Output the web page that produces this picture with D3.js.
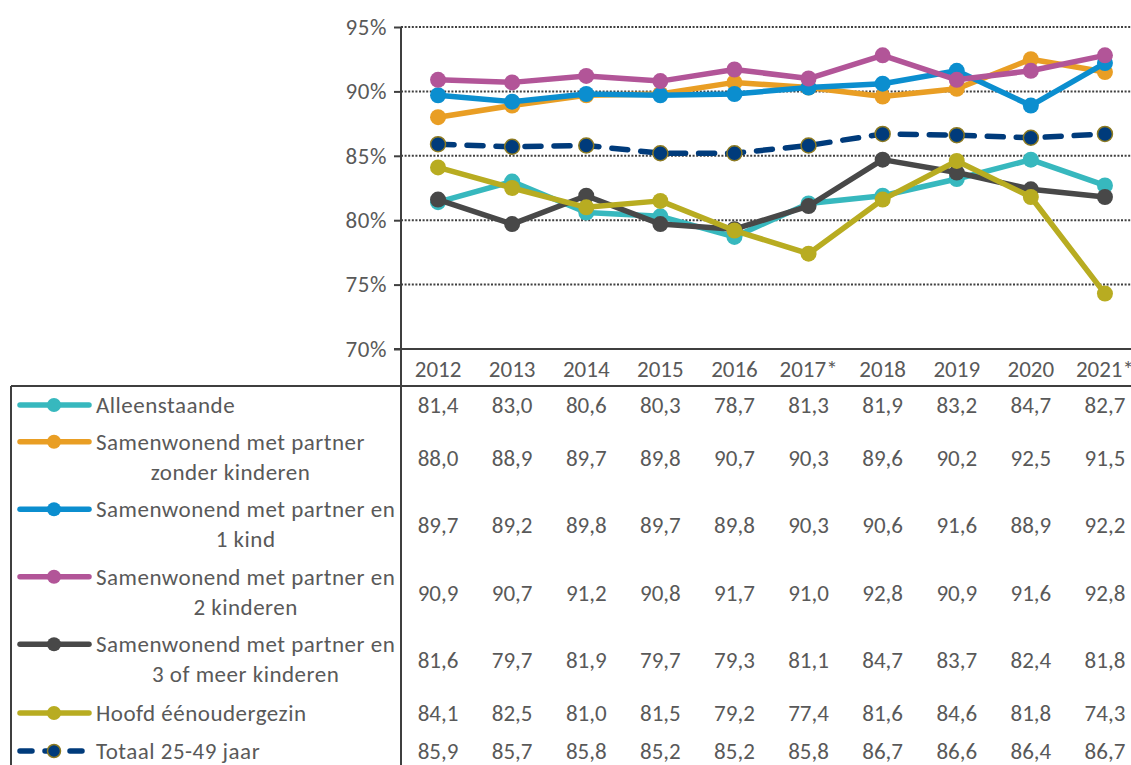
<!DOCTYPE html>
<html>
<head>
<meta charset="utf-8">
<script src="https://cdn.jsdelivr.net/npm/d3@7"></script>
<style>
  html, body { margin: 0; padding: 0; background: #fff; overflow: hidden; }
  svg { display: block; }
  text { font-family: Carlito, Lato, "Open Sans", sans-serif; fill: #595959; }
</style>
</head>
<body>
<svg id="chart" width="1131" height="765"></svg>
<script>
// Years (columns of the data table / x axis)
const years = ["2012", "2013", "2014", "2015", "2016", "2017*", "2018", "2019", "2020", "2021*"];

// Percentages per household type
const alleenstaande = [81.4, 83.0, 80.6, 80.3, 78.7, 81.3, 81.9, 83.2, 84.7, 82.7];
const zonderKinderen = [88.0, 88.9, 89.7, 89.8, 90.7, 90.3, 89.6, 90.2, 92.5, 91.5];
const eenKind = [89.7, 89.2, 89.8, 89.7, 89.8, 90.3, 90.6, 91.6, 88.9, 92.2];
const tweeKinderen = [90.9, 90.7, 91.2, 90.8, 91.7, 91.0, 92.8, 90.9, 91.6, 92.8];
const drieOfMeer = [81.6, 79.7, 81.9, 79.7, 79.3, 81.1, 84.7, 83.7, 82.4, 81.8];
const eenouder = [84.1, 82.5, 81.0, 81.5, 79.2, 77.4, 81.6, 84.6, 81.8, 74.3];
const totaal = [85.9, 85.7, 85.8, 85.2, 85.2, 85.8, 86.7, 86.6, 86.4, 86.7];

// Legend labels (lines of each table row header)
const labels = [
  ["Alleenstaande"],
  ["Samenwonend met partner", "zonder kinderen"],
  ["Samenwonend met partner en", "1 kind"],
  ["Samenwonend met partner en", "2 kinderen"],
  ["Samenwonend met partner en", "3 of meer kinderen"],
  ["Hoofd éénoudergezin"],
  ["Totaal 25-49 jaar"]
];

const yTicks = [70, 75, 80, 85, 90, 95];

const seriesValues = [alleenstaande, zonderKinderen, eenKind, tweeKinderen, drieOfMeer, eenouder, totaal];
const colors = ["#37b8be", "#e99e24", "#0b8ecf", "#b25598", "#484848", "#b8ac21", "#003b7b"];

const series = seriesValues.map((values, i) => ({
  label: labels[i],
  values,
  color: colors[i],
  dashed: i === 6
}));

const svg = d3.select("#chart");
const fontSize = 23;

// Plot frame
const plotLeft = 401, plotTop = 27, plotBottom = 349;
const bandW = 74.1;

const x = d3.scaleBand()
  .domain(years)
  .range([plotLeft, plotLeft + bandW * years.length])
  .paddingInner(0).paddingOuter(0);

const y = d3.scaleLinear().domain([70, 95]).range([plotBottom, plotTop]);

// Dotted gridlines
svg.append("g")
  .selectAll("line")
  .data(yTicks.filter(t => t > 70))
  .join("line")
  .attr("x1", plotLeft).attr("x2", 1131)
  .attr("y1", d => y(d)).attr("y2", d => y(d))
  .attr("stroke", "#3f3f3f")
  .attr("stroke-width", 2)
  .attr("stroke-dasharray", "2 1.6");

// Y axis
const yAxis = d3.axisLeft(y)
  .tickValues(yTicks)
  .tickSize(7)
  .tickPadding(7)
  .tickFormat(d => d + "%");
const gy = svg.append("g").attr("transform", `translate(${plotLeft},0)`).call(yAxis);
gy.select(".domain").remove();
gy.selectAll(".tick line").attr("stroke", "#3f3f3f").attr("stroke-width", 2);
gy.selectAll(".tick text")
  .attr("font-size", fontSize)
  .style("font-family", "Carlito, Lato, 'Open Sans', sans-serif")
  .style("letter-spacing", "0.6px")
  .attr("fill", "#595959");

// Table geometry
const tableTop = 386;
const singleH = 38, doubleH = 67.5;
let acc = tableTop;
const rows = series.map(s => {
  const h = s.label.length > 1 ? doubleH : singleH;
  const r = { top: acc, center: acc + h / 2, h };
  acc += h;
  return r;
});

// Axis lines and table borders
const border = svg.append("g").attr("stroke", "#3f3f3f").attr("stroke-width", 2);
border.append("line").attr("x1", plotLeft).attr("x2", plotLeft).attr("y1", plotTop).attr("y2", 765);
border.append("line").attr("x1", plotLeft - 7).attr("x2", 1131).attr("y1", plotBottom).attr("y2", plotBottom);
border.append("line").attr("x1", 11).attr("x2", 1131).attr("y1", tableTop).attr("y2", tableTop);
border.append("line").attr("x1", 11).attr("x2", 11).attr("y1", tableTop).attr("y2", 765);

// Year header row (the last column runs past the right edge of the table)
svg.append("g")
  .selectAll("text")
  .data(years)
  .join("text")
  .attr("x", d => x(d) + x.bandwidth() / 2)
  .attr("y", (plotBottom + tableTop) / 2 + 1)
  .attr("text-anchor", "middle")
  .attr("dominant-baseline", "central")
  .attr("font-size", fontSize)
  .text(d => d);

// Lines and markers
const line = d3.line()
  .x((d, i) => x(years[i]) + x.bandwidth() / 2)
  .y(d => y(d));

const gSeries = svg.append("g");
series.forEach(s => {
  const g = gSeries.append("g");
  g.append("path")
    .attr("d", line(s.values))
    .attr("fill", "none")
    .attr("stroke", s.color)
    .attr("stroke-width", 5.5)
    .attr("stroke-linejoin", "round")
    .attr("stroke-linecap", s.dashed ? "round" : "butt")
    .attr("stroke-dasharray", s.dashed ? "16 13" : null);
  g.selectAll("circle")
    .data(s.values)
    .join("circle")
    .attr("cx", (d, i) => x(years[i]) + x.bandwidth() / 2)
    .attr("cy", d => y(d))
    .attr("r", s.dashed ? 7.5 : 8)
    .attr("fill", s.color)
    .attr("stroke", s.dashed ? "#8c7a22" : "none")
    .attr("stroke-width", s.dashed ? 1.5 : 0);
});

// Table rows: legend key, label and values
series.forEach((s, i) => {
  const r = rows[i];
  const g = svg.append("g");
  const twoLine = s.label.length > 1;
  const firstY = twoLine ? r.center - 16 : r.center;

  // Key
  if (s.dashed) {
    g.append("line").attr("x1", 20).attr("x2", 88).attr("y1", firstY).attr("y2", firstY)
      .attr("stroke", s.color).attr("stroke-width", 5.5)
      .attr("stroke-linecap", "round").attr("stroke-dasharray", "12 13");
  } else {
    g.append("line").attr("x1", 20).attr("x2", 89).attr("y1", firstY).attr("y2", firstY)
      .attr("stroke", s.color).attr("stroke-width", 5.5).attr("stroke-linecap", "round");
  }
  g.append("circle").attr("cx", 54).attr("cy", firstY).attr("r", s.dashed ? 6.5 : 7)
    .attr("fill", s.color)
    .attr("stroke", s.dashed ? "#8c7a22" : "none")
    .attr("stroke-width", s.dashed ? 1.5 : 0);

  // Label
  const t1 = g.append("text")
    .attr("x", 96).attr("y", firstY)
    .attr("dominant-baseline", "central")
    .attr("font-size", fontSize)
    .style("letter-spacing", "0.5px")
    .text(s.label[0]);
  if (twoLine) {
    const w = t1.node().getComputedTextLength();
    g.append("text")
      .attr("x", 96 + w / 2).attr("y", r.center + 14)
      .attr("text-anchor", "middle")
      .attr("dominant-baseline", "central")
      .attr("font-size", fontSize)
      .style("letter-spacing", "0.5px")
      .text(s.label[1]);
  }

  // Values
  g.selectAll("text.val")
    .data(s.values)
    .join("text")
    .attr("class", "val")
    .attr("x", (d, j) => x(years[j]) + x.bandwidth() / 2)
    .attr("y", r.center)
    .attr("text-anchor", "middle")
    .attr("dominant-baseline", "central")
    .attr("font-size", fontSize)
    .text(d => d.toFixed(1).replace(".", ","));
});
</script>
</body>
</html>
